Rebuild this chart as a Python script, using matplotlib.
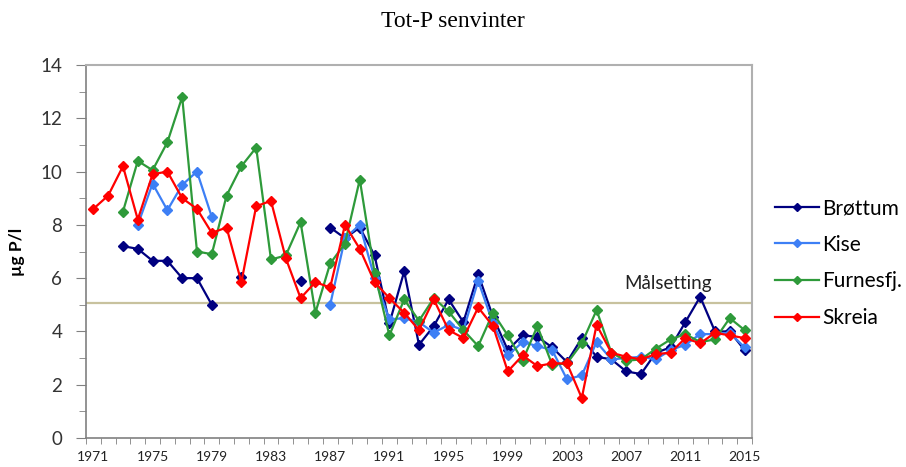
import numpy as np
import matplotlib
matplotlib.use('Agg')
import matplotlib.pyplot as plt
from matplotlib.ticker import MultipleLocator, FixedLocator

nan = np.nan
years = np.arange(1971, 2016)

# Tot-P, µg P/l
brottum = [nan, nan, 7.2, 7.1, 6.65, 6.65, 6.0, 6.0, 5.0, nan,
           6.05, nan, nan, nan, 5.9, nan, 7.9, 7.5, 7.9, 6.85,
           4.3, 6.25, 3.5, 4.2, 5.2, 4.35, 6.15, 4.55, 3.3, 3.85,
           3.8, 3.4, 2.85, 3.75, 3.05, 2.95, 2.5, 2.4, 3.2, 3.4,
           4.35, 5.3, 4.0, 4.0, 3.3]
kise = [nan, nan, nan, 8.0, 9.55, 8.55, 9.5, 10.0, 8.3, nan,
        nan, nan, nan, nan, nan, nan, 5.0, 7.5, 8.0, 6.0,
        4.45, 4.5, 4.35, 3.95, 4.25, 4.05, 5.9, 4.3, 3.1, 3.6,
        3.45, 3.3, 2.2, 2.35, 3.6, 2.95, 3.0, 3.05, 2.95, 3.3,
        3.5, 3.9, 3.9, 3.95, 3.4]
furnes = [nan, nan, 8.5, 10.4, 10.05, 11.1, 12.8, 7.0, 6.9, 9.1,
          10.2, 10.9, 6.7, 6.85, 8.1, 4.7, 6.55, 7.3, 9.7, 6.2,
          3.85, 5.2, 4.4, 5.25, 4.75, 4.05, 3.45, 4.7, 3.85, 2.9,
          4.2, 2.75, 2.8, 3.55, 4.8, 3.2, 2.9, 2.95, 3.35, 3.7,
          3.9, 3.6, 3.7, 4.5, 4.05]
skreia = [8.6, 9.1, 10.2, 8.2, 9.9, 10.0, 9.0, 8.6, 7.7, 7.9,
          5.85, 8.7, 8.9, 6.75, 5.25, 5.85, 5.65, 8.0, 7.1, 5.85,
          5.25, 4.7, 4.05, 5.2, 4.05, 3.75, 4.9, 4.2, 2.5, 3.1,
          2.7, 2.8, 2.8, 1.5, 4.25, 3.2, 3.05, 2.95, 3.15, 3.2,
          3.75, 3.55, 3.95, 3.85, 3.75]
malsetting = 5.07

series = [
    ('Brøttum', brottum, '#000080'),
    ('Kise', kise, '#3D7FF5'),
    ('Furnesfj.', furnes, '#2E9A3A'),
    ('Skreia', skreia, '#FF0000'),
]

fig = plt.figure(figsize=(9.06, 4.67), dpi=100)
ax = fig.add_axes([0.0949, 0.0621, 0.7351, 0.7987])

ax.axhline(malsetting, color='#C8C29E', lw=1.6, zorder=1)
ax.text(2009.8, malsetting + 0.52, 'Målsetting', fontsize=13.5,
        family='Lato', ha='center', va='baseline', color='#222222')

for name, vals, col in series:
    ax.plot(years, vals, color=col, lw=1.6, marker='D', ms=5.5,
            markeredgecolor=col, label=name)

ax.set_xlim(1970.5, 2015.5)
ax.set_ylim(0, 14)

ax.xaxis.set_major_locator(FixedLocator(years[::4]))
ax.xaxis.set_minor_locator(FixedLocator(np.arange(1970.5, 2016, 1)))
ax.yaxis.set_major_locator(MultipleLocator(2))
ax.yaxis.set_minor_locator(MultipleLocator(1))
ax.tick_params(axis='x', which='major', length=0, labelsize=10, pad=9.5,
               colors='#222222')
ax.tick_params(axis='x', which='minor', length=4, direction='out',
               color='#808080')
ax.tick_params(axis='y', which='major', length=7, direction='out',
               color='#808080', labelsize=13.5, labelcolor='#333333', pad=10)
ax.tick_params(axis='y', which='minor', length=5, direction='out',
               color='#808080')
for lab in ax.get_xticklabels() + ax.get_yticklabels():
    lab.set_family('Lato')

for s in ['left', 'bottom']:
    ax.spines[s].set_color('#808080')
    ax.spines[s].set_linewidth(1.2)
for s in ['top', 'right']:
    ax.spines[s].set_color('#B0B0B0')
    ax.spines[s].set_linewidth(1.5)

ax.set_ylabel('µg P/l', fontsize=12.5, fontweight='bold', family='Lato')
ax.yaxis.set_label_coords(-0.092, 0.5)

fig.text(0.5, 0.953, 'Tot-P senvinter', ha='center', va='center',
         fontsize=17, family='Liberation Serif')

leg = ax.legend(loc='center left', bbox_to_anchor=(1.0345, 0.469),
                frameon=False, prop={'family': 'Lato', 'size': 15},
                handlelength=2.1, labelspacing=0.8, markerscale=0.8,
                handletextpad=0.15, borderpad=0, borderaxespad=0)

fig.savefig('out.png', dpi=100)
